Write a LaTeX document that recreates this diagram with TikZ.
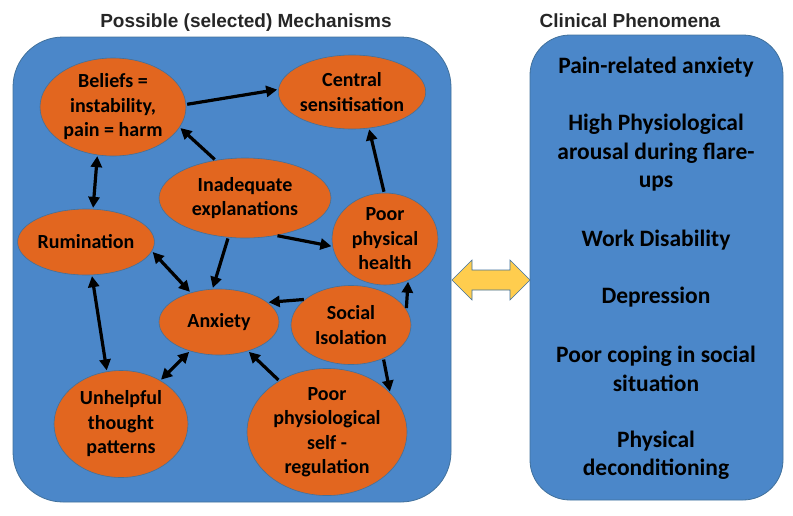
\documentclass[tikz,border=0pt]{standalone}
\usepackage{fontspec}
\setmainfont{Carlito}
\newfontfamily\titlefont{Liberation Sans}
\usetikzlibrary{shapes.geometric,arrows.meta}
\definecolor{boxblue}{HTML}{4B87C9}
\definecolor{boxedge}{HTML}{41719C}
\definecolor{mechorange}{HTML}{E2661F}
\definecolor{arrowyellow}{HTML}{FFCD4E}
\tikzset{
  panel/.style={fill=boxblue, draw=boxedge, line width=0.8pt},
  mech/.style={ellipse, fill=mechorange, draw=boxedge, line width=0.6pt, inner sep=0pt,
    align=center, font=\fontsize{20}{24.5}\selectfont\bfseries},
  link/.style={line width=3.2pt, -{Triangle[length=11pt,width=11pt]}, shorten <=1pt, shorten >=1pt},
  blink/.style={line width=3.2pt, {Triangle[length=11pt,width=11pt]}-{Triangle[length=11pt,width=11pt]}, shorten <=1pt, shorten >=1pt},
  heading/.style={font=\titlefont\fontsize{19}{21}\selectfont\bfseries, text=black!85, anchor=base},
  item/.style={align=center, font=\fontsize{23.5}{28.5}\selectfont\bfseries, inner sep=0pt}
}
\begin{document}
\begin{tikzpicture}[x=1pt,y=-1pt]
\useasboundingbox (0,0) rectangle (793,515);
% panels
\draw[panel, rounded corners=50pt] (13,37) rectangle (451,502);
\draw[panel, rounded corners=40pt] (530,35) rectangle (783,500);
\node[heading] (t1) at (246,27) {Possible (selected) Mechanisms};
\node[heading] (t2) at (630,27) {Clinical Phenomena};
% yellow double arrow
\draw[fill=arrowyellow, draw=boxedge, line width=0.6pt, line join=miter]
  (452,280) -- (472,260) -- (472,270) -- (510,270) -- (510,260) -- (530,280)
  -- (510,300) -- (510,290) -- (472,290) -- (472,300) -- cycle;
% mechanisms
\node[mech, minimum width=146pt, minimum height=98pt] (bel) at (113,107) {Beliefs =\\instability,\\pain = harm};
\node[mech, minimum width=146pt, minimum height=74pt] (cen) at (352,92) {Central\\sensitisation};
\node[mech, minimum width=172pt, minimum height=80pt] (ina) at (245,198) {Inadequate\\explanations};
\node[mech, minimum width=106pt, minimum height=92pt] (pph) at (385,239) {Poor\\physical\\health};
\node[mech, minimum width=120pt, minimum height=66pt] (rum) at (86,242) {Rumination};
\node[mech, minimum width=120pt, minimum height=66pt] (anx) at (219,322) {Anxiety};
\node[mech, minimum width=120pt, minimum height=79pt] (soc) at (351,325) {Social\\Isolation};
\node[mech, minimum width=134pt, minimum height=107pt] (unh) at (121,424) {Unhelpful\\thought\\patterns};
\node[mech, minimum width=160pt, minimum height=119pt] (pps) at (327,432) {Poor\\physiological\\self -\\regulation};
% connectors
\draw[link] (bel.2) -- (cen.178);
\draw[link] (ina.128) -- (bel.-17);
\draw[blink] (bel.-108) -- (rum.78);
\draw[link] (ina.-50) -- (pph.-172);
\draw[link] (pph.91) -- (cen.-65);
\draw[link] (ina.-113) -- (anx.101);
\draw[blink] (rum.-8) -- (anx.134);
\draw[blink] (rum.-80) -- (unh.105);
\draw[blink] (unh.48) -- (anx.-135);
\draw[link] (soc.151) -- (anx.22);
\draw[link] (soc.16) -- (pph.-61);
\draw[link] (soc.-46) -- (pps.32);
\draw[link] (pps.133) -- (anx.-45);
% clinical phenomena
\node[item] (c1) at (656,67) {Pain-related anxiety};
\node[item] (c2) at (656,153) {High Physiological\\arousal during flare-\\ups};
\node[item] (c3) at (656,240) {Work Disability};
\node[item] (c4) at (656,297) {Depression};
\node[item] (c5) at (656,369) {Poor coping in social\\situation};
\node[item] (c6) at (656,455) {Physical\\deconditioning};
\end{tikzpicture}
\end{document}
